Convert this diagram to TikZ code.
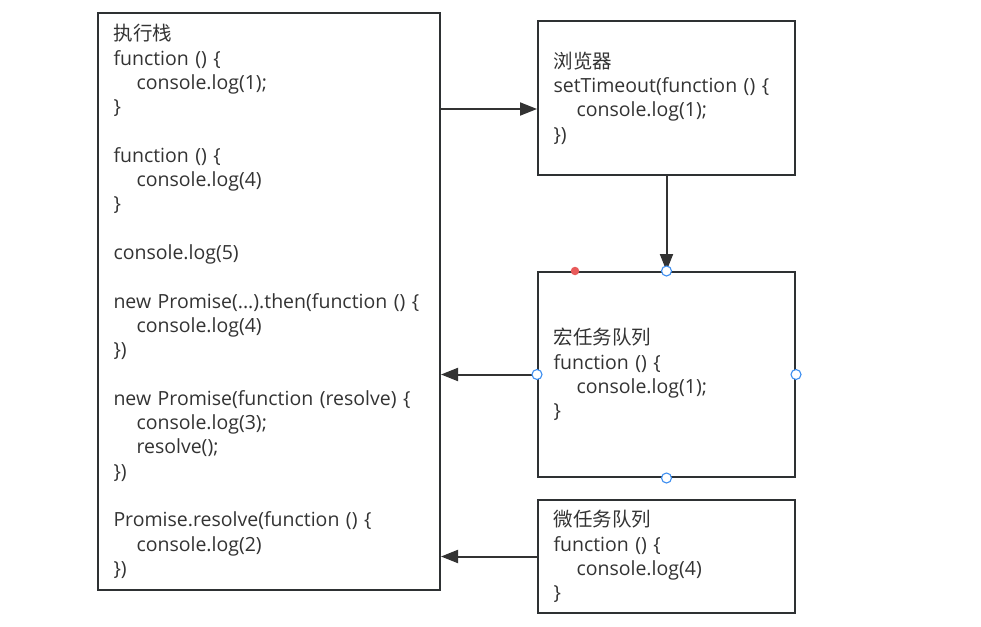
\documentclass[tikz,border=0pt]{standalone}
\usepackage{fontspec}
\setmainfont{Open Sans}
\newfontfamily\cjk{Noto Sans CJK SC}
\usetikzlibrary{arrows.meta}
\definecolor{boxc}{HTML}{2E3133}
\definecolor{arrc}{HTML}{333333}
\definecolor{textc}{HTML}{333333}
\definecolor{handc}{HTML}{3D8EF0}
\definecolor{redc}{HTML}{E85A5A}
\begin{document}
\begin{tikzpicture}[x=1pt,y=-1pt,
  box/.style={draw=boxc, line width=2pt, rectangle, inner xsep=15.5pt, inner ysep=0pt,
    align=left, anchor=north west, text=textc, font=\fontsize{19.5}{24.3}\selectfont},
  arr/.style={draw=arrc, line width=2pt, -{Triangle[length=17pt,width=13pt]}},
  handle/.style={circle, draw=handc, fill=white, line width=1.1pt, minimum size=10pt, inner sep=0pt},
  reddot/.style={circle, fill=redc, minimum size=8.5pt, inner sep=0pt},
  ]
\useasboundingbox (0,0) rectangle (981,626);
\newcommand\ind{\hspace*{23pt}}
\node[box, minimum width=342pt, minimum height=577pt, text width=311pt] (exec) at (97,12) {%
{\cjk 执行栈}\\
function () \{\\
\ind console.log(1);\\
\}\\
\mbox{}\\
function () \{\\
\ind console.log(4)\\
\}\\
\mbox{}\\
console.log(5)\\
\mbox{}\\
new Promise(...).then(function () \{\\
\ind console.log(4)\\
\})\\
\mbox{}\\
new Promise(function (resolve) \{\\
\ind console.log(3);\\
\ind resolve();\\
\})\\
\mbox{}\\
Promise.resolve(function () \{\\
\ind console.log(2)\\
\})};
\node[box, minimum width=257pt, minimum height=154pt, text width=226pt] (browser) at (537,20) {%
{\cjk 浏览器}\\
setTimeout(function () \{\\
\ind console.log(1);\\
\})};
\node[box, minimum width=257pt, minimum height=205pt, text width=226pt] (macro) at (537,271) {%
{\cjk 宏任务队列}\\
function () \{\\
\ind console.log(1);\\
\}};
\node[box, minimum width=257pt, minimum height=113pt, text width=226pt] (micro) at (537,499) {%
{\cjk 微任务队列}\\
function () \{\\
\ind console.log(4)\\
\}};
\coordinate (bw) at ([yshift=-11pt]browser.west);
\draw[arr] (exec.east |- bw) -- (bw);
\draw[arr] (browser.south) -- (macro.north);
\draw[arr] (macro.west) -- (exec.east |- macro.west);
\draw[arr] (micro.west) -- (exec.east |- micro.west);
\node[handle] (hn) at (macro.north) {};
\node[handle] (hw) at (macro.west) {};
\node[handle] (he) at (macro.east) {};
\node[handle] (hs) at (macro.south) {};
\node[reddot] (rd) at ([xshift=38pt]macro.north west) {};
\end{tikzpicture}
\end{document}
